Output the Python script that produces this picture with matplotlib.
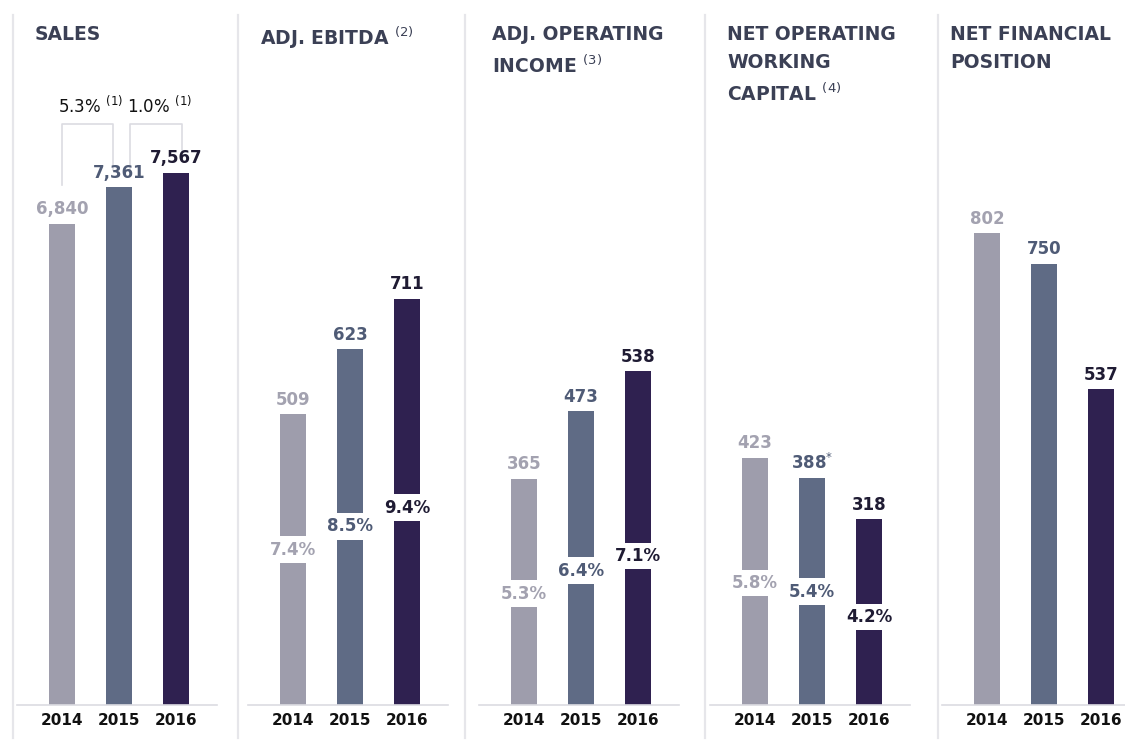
import matplotlib as mpl
mpl.use('Agg')
from matplotlib import pyplot as plt
from matplotlib.lines import Line2D

years = ['2014', '2015', '2016']
titles = ['SALES', 'ADJ. EBITDA $^{(2)}$', 'ADJ. OPERATING\nINCOME $^{(3)}$',
          'NET OPERATING\nWORKING\nCAPITAL $^{(4)}$', 'NET FINANCIAL\nPOSITION']
values = [
  [6840, 7361, 7567],
  [509, 623, 711],
  [365, 473, 538],
  [423, 388, 318],
  [802, 750, 537],
]
value_labels = [
  ['6,840', '7,361', '7,567'],
  ['509', '623', '711'],
  ['365', '473', '538'],
  ['423', '388$^{*}$', '318'],
  ['802', '750', '537'],
]
# margins on sales, shown inside the bars
pct_values = [None, [7.4, 8.5, 9.4], [5.3, 6.4, 7.1], [5.8, 5.4, 4.2], None]
growth_labels = ['5.3% $^{(1)}$', '1.0% $^{(1)}$']

bar_colors = ['#9e9dac', '#5f6b85', '#2f2150']
label_colors = ['#a3a2b0', '#4f5b76', '#1f1b33']
title_color = '#3b4055'
line_color = '#dcdce2'

W, H = 1125, 747
fig = plt.figure(figsize=(W / 100, H / 100), dpi=100, facecolor='white')

# layout in pixels
bar0_x = [62, 293, 524, 755, 987]
step = 57.0
base_y = 705
top_y = 100
ymax = [8601, 1059, 975, 1036, 1029]
pct_span = 28.8
title_x = [35, 260, 492, 727, 950]
sep_x = [13, 238, 465, 705, 938]

for sx in sep_x:
  fig.add_artist(Line2D([sx / W, sx / W], [1 - 15 / H, 1 - 738 / H],
                        color='#e6e6ea', lw=1.6, transform=fig.transFigure))

for i in range(5):
  left = bar0_x[i] - 45
  ax = fig.add_axes([left / W, 1 - base_y / H, 200 / W, (base_y - top_y) / H])
  ax.set_xlim(-45 / step, 155 / step)
  ax.set_ylim(0, ymax[i])
  ax.set_facecolor('none')
  for s in ['top', 'right', 'left']:
    ax.spines[s].set_visible(False)
  ax.spines['bottom'].set_color(line_color)
  ax.spines['bottom'].set_linewidth(1.2)
  ax.set_yticks([])
  ax.set_xticks(range(3))
  ax.set_xticklabels(years, fontsize=11, fontweight='bold', color='#111111')
  ax.tick_params(axis='x', length=0, pad=6)

  ax.bar(range(3), values[i], width=0.46, color=bar_colors)

  for j in range(3):
    ax.annotate(value_labels[i][j], (j, values[i][j]), xytext=(0, 4),
                textcoords='offset points', ha='center', va='bottom',
                fontsize=12, fontweight='bold', color=label_colors[j])
    if pct_values[i] is not None:
      ax.text(j, pct_values[i][j] / pct_span, '{0:.1f}%'.format(pct_values[i][j]),
              transform=ax.get_xaxis_transform(), ha='center', va='center',
              fontsize=12, fontweight='bold', color=label_colors[j],
              bbox=dict(boxstyle='square,pad=0.25', fc='white', ec='none'))

  fig.text(title_x[i] / W, 1 - 25 / H, titles[i], ha='left', va='top',
           fontsize=13.5, fontweight='bold', color=title_color, linespacing=1.6)

  if i == 0:
    tr = ax.get_xaxis_transform()
    # growth brackets between the sales bars
    ax.plot([0, 0, 0.9, 0.9], [0.86, 0.96, 0.96, 0.884], color=line_color, lw=1.2, transform=tr)
    ax.plot([1.2, 1.2, 2.1, 2.1], [0.884, 0.96, 0.96, 0.917], color=line_color, lw=1.2, transform=tr)
    ax.text(0.5, 0.99, growth_labels[0], transform=tr, ha='center', va='center',
            fontsize=12, color='#111111')
    ax.text(1.72, 0.99, growth_labels[1], transform=tr, ha='center', va='center',
            fontsize=12, color='#111111')

plt.savefig('out.png', dpi=100, facecolor='white')
